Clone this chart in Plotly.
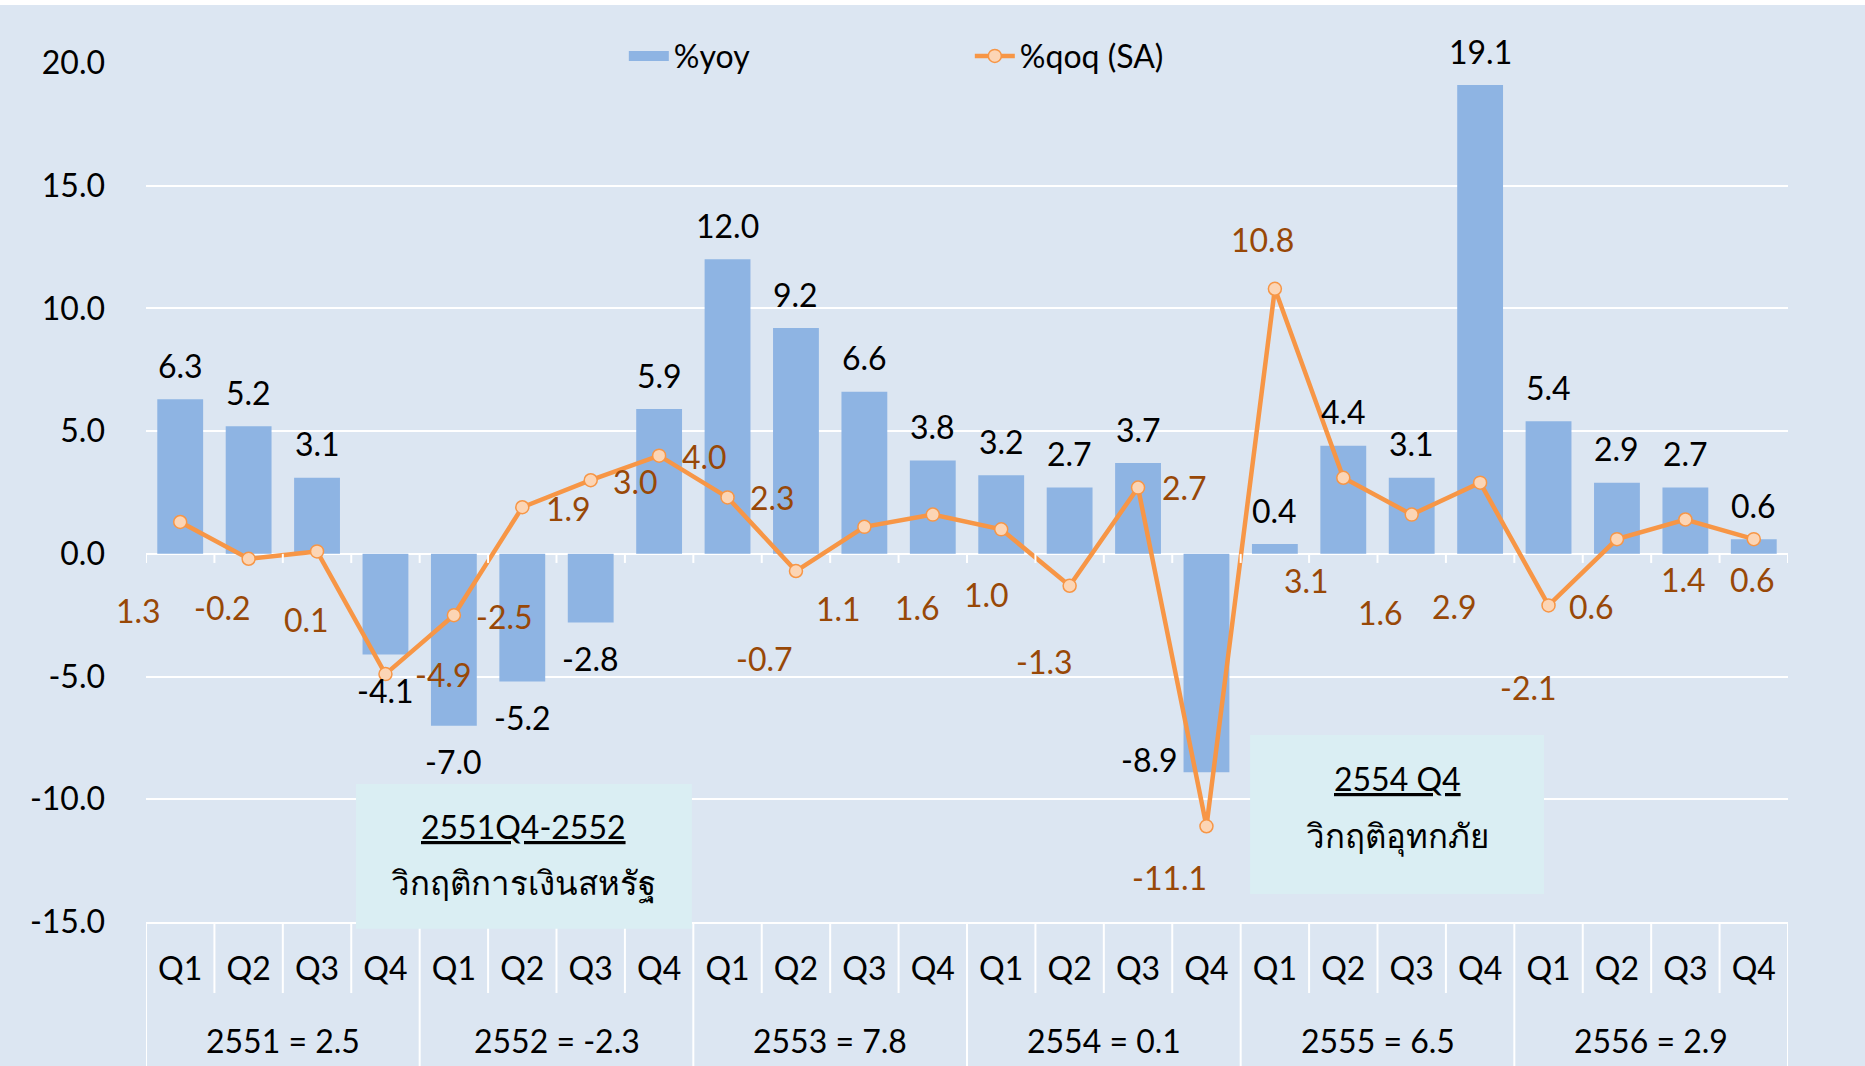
import plotly.graph_objects as go

years = ["2551 = 2.5", "2552 = -2.3", "2553 = 7.8", "2554 = 0.1", "2555 = 6.5", "2556 = 2.9"]
quarters = ["Q1", "Q2", "Q3", "Q4"]
yoy = [6.3, 5.2, 3.1, -4.1, -7.0, -5.2, -2.8, 5.9, 12.0, 9.2, 6.6, 3.8,
       3.2, 2.7, 3.7, -8.9, 0.4, 4.4, 3.1, 19.1, 5.4, 2.9, 2.7, 0.6]
qoq = [1.3, -0.2, 0.1, -4.9, -2.5, 1.9, 3.0, 4.0, 2.3, -0.7, 1.1, 1.6,
       1.0, -1.3, 2.7, -11.1, 10.8, 3.1, 1.6, 2.9, -2.1, 0.6, 1.4, 0.6]
yticks = [-15, -10, -5, 0, 5, 10, 15, 20]

# label placement (pixel offsets), styling only
qoq_shift = [(-42, -89), (-26, -49), (-11, -68), (58, 0), (51, -1), (46, -1), (45, -1), (45, -1),
             (45, 0), (-31, -87), (-26, -82), (-15, -93), (-15, -65), (-25, -76), (46, 0), (-37, -51),
             (-12, 49), (-37, -103), (-31, -98), (-26, -124), (-20, -82), (-25, -67), (-2, -60), (-1, -40)]

FONT = "Lato, 'Noto Sans', sans-serif"
FS = 32
BG = "#DCE6F2"
BAR = "#8EB4E3"
LINE = "#F79646"
MFILL = "#FCD5B5"
LBL = "#984807"

nq = len(quarters)
n = len(yoy)
ny = len(years)
xidx = list(range(n))
qlabels = [q for _ in years for q in quarters]
ycenters = [k * nq + (nq - 1) / 2 for k in range(ny)]

fig = go.Figure()
fig.add_trace(go.Bar(x=xidx, y=yoy, name="%yoy", showlegend=False, legendgroup="yoy",
                     marker=dict(color=BAR, line=dict(width=0))))
# legend swatch for the bars (wide rectangle like the original)
fig.add_trace(go.Scatter(x=[None], y=[None], name="%yoy", mode="lines", legendgroup="yoy",
                         line=dict(color=BAR, width=18), hoverinfo="skip"))
fig.add_trace(go.Scatter(x=xidx, y=qoq, name="%qoq (SA)", mode="lines+markers",
                         line=dict(color=LINE, width=4.5),
                         marker=dict(size=13, color=MFILL, line=dict(color=LINE, width=1.5))))

ann = []
for i in range(n):
    v = yoy[i]
    xs, ys = 0, (34 if v >= 0 else -36)
    if v < -8:
        xs, ys = -57, 13
    ann.append(dict(x=i, y=v, xref="x", yref="y", text=f"{v:.1f}", showarrow=False,
                    xshift=xs, yshift=ys, font=dict(family=FONT, size=FS, color="black")))
for i in range(n):
    v = qoq[i]
    dx, dy = qoq_shift[i]
    ann.append(dict(x=i, y=v, xref="x", yref="y", text=f"{v:.1f}", showarrow=False,
                    xshift=dx, yshift=dy, font=dict(family=FONT, size=FS, color=LBL)))

# year labels under the quarter labels
for k in range(ny):
    ann.append(dict(x=ycenters[k], y=-0.1385, xref="x", yref="paper", text=years[k], showarrow=False,
                    xanchor="center", yanchor="middle", font=dict(family=FONT, size=FS, color="black")))

shapes = [dict(type="rect", xref="paper", yref="paper", x0=-0.2, x1=1.2, y0=1.0675, y1=1.1,
               fillcolor="white", line=dict(width=0), layer="above")]
# quarter separators, year separators, zero-line ticks
for i in range(n + 1):
    b = i - 0.5
    full = (i % nq == 0)
    shapes.append(dict(type="line", xref="x", yref="paper", x0=b, x1=b, y0=0,
                       y1=(-0.17 if full else -0.0827), line=dict(color="white", width=2)))
    shapes.append(dict(type="line", xref="x", yref="y", x0=b, x1=b, y0=0, y1=-0.37,
                       line=dict(color="white", width=2)))

# crisis boxes
boxes = [
    (0.1279, 0.3325, -0.008, 0.1607, "2551Q4-2552", "วิกฤติการเงินสหรัฐ", 0.1106, 0.0454),
    (0.6724, 0.8514, 0.0326, 0.2177, "2554 Q4", "วิกฤติอุทกภัย", 0.1665, 0.1001),
]
for x0, x1, y0, y1, t1, t2, ty1, ty2 in boxes:
    shapes.append(dict(type="rect", xref="paper", yref="paper", x0=x0, x1=x1, y0=y0, y1=y1,
                       fillcolor="#DAEEF3", line=dict(width=0), layer="above"))
    xc = (x0 + x1) / 2
    ann.append(dict(x=xc, y=ty1, xref="paper", yref="paper", text=t1, showarrow=False,
                    xanchor="center", yanchor="middle",
                    font=dict(family=FONT, size=FS, color="black", lineposition="under")))
    ann.append(dict(x=xc, y=ty2, xref="paper", yref="paper", text=t2, showarrow=False,
                    xanchor="center", yanchor="middle",
                    font=dict(family=FONT, size=FS + 1, color="black")))

fig.update_layout(
    width=1865, height=1066,
    margin=dict(l=146, r=77, t=63, b=144),
    paper_bgcolor=BG, plot_bgcolor=BG,
    bargap=0.33,
    font=dict(family=FONT, size=FS, color="black"),
    showlegend=True,
    legend=dict(orientation="h", x=0.2910, xanchor="left", y=1.008, yanchor="middle",
                bgcolor="rgba(0,0,0,0)", font=dict(size=FS), entrywidth=291, entrywidthmode="pixels",
                itemwidth=40),
    annotations=ann, shapes=shapes,
    yaxis=dict(range=[-15, 20], tickvals=yticks, ticktext=[f"{v:.1f}" for v in yticks],
               showgrid=True, gridcolor="white",
               gridwidth=2, zeroline=True, zerolinecolor="white", zerolinewidth=2,
               showline=False, ticks="", ticklabelstandoff=40, tickfont=dict(size=FS)),
    xaxis=dict(range=[-0.5, n - 0.5], tickvals=xidx, ticktext=qlabels, showgrid=False, zeroline=False,
               showline=True, linecolor="white", linewidth=2, ticks="",
               tickfont=dict(size=FS), ticklabelstandoff=18),
)
fig.write_html("out.html", config={"displayModeBar": False},
               post_script="document.body.style.margin='0';")
